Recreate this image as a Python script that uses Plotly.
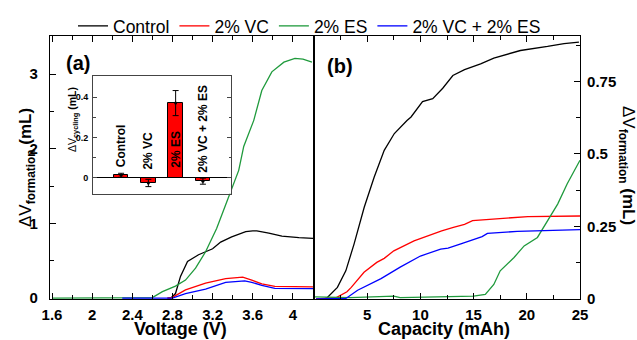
import plotly.graph_objects as go

# ---------------- data ----------------
# panel (a): formation gas vs voltage
ctrl_a_v = [2.75, 2.785, 2.83, 2.88, 2.95, 3.06, 3.2, 3.28, 3.39, 3.53, 3.6, 3.64, 3.76, 3.89, 4.06, 4.2]
ctrl_a_y = [0.0, 0.0, 0.06, 0.29, 0.49, 0.58, 0.66, 0.75, 0.82, 0.89, 0.9, 0.9, 0.87, 0.83, 0.81, 0.80]

vc_a_v = [2.75, 2.8, 2.93, 3.13, 3.33, 3.46, 3.5, 3.59, 3.69, 3.82, 4.0, 4.2]
vc_a_y = [0.0, 0.01, 0.11, 0.2, 0.26, 0.28, 0.28, 0.24, 0.19, 0.155, 0.15, 0.15]

es_a_v = [1.6, 2.0, 2.4, 2.6, 2.7, 2.83, 2.93, 3.03, 3.13, 3.24, 3.33, 3.4, 3.46, 3.51, 3.61, 3.69, 3.79, 3.91, 4.02, 4.1, 4.19]
es_a_y = [0.0, 0.0, 0.0, 0.005, 0.085, 0.16, 0.24, 0.40, 0.62, 0.93, 1.25, 1.5, 1.71, 2.03, 2.38, 2.78, 3.03, 3.16, 3.21, 3.2, 3.16]

vces_a_v = [2.3, 2.8, 2.93, 3.13, 3.33, 3.46, 3.52, 3.59, 3.69, 3.82, 4.0, 4.2]
vces_a_y = [0.0, 0.0, 0.06, 0.12, 0.21, 0.23, 0.23, 0.21, 0.17, 0.13, 0.125, 0.125]

# panel (b): formation gas vs capacity
ctrl_b_c = [0.2, 0.57, 1.26, 2.2, 2.99, 3.77, 4.72, 5.66, 6.6, 7.55, 8.74, 9.12, 10.2, 11.16, 12.1, 13.05, 14.15, 15.66, 16.9, 19.4, 21.95, 23.5, 24.9]
ctrl_b_y = [0.0, -0.005, 0.005, 0.04, 0.097, 0.19, 0.316, 0.42, 0.512, 0.57, 0.615, 0.627, 0.68, 0.69, 0.726, 0.77, 0.79, 0.81, 0.83, 0.856, 0.87, 0.88, 0.885]

vc_b_c = [0.2, 2.1, 3.1, 3.5, 4.7, 5.9, 6.6, 7.5, 9.4, 11.25, 12.0, 13.1, 14.15, 14.9, 16.9, 20.1, 25.0]
vc_b_y = [0.0, 0.005, 0.025, 0.04, 0.092, 0.126, 0.14, 0.166, 0.20, 0.226, 0.235, 0.247, 0.257, 0.27, 0.276, 0.284, 0.286]

es_b_c = [0.1, 3.4, 7.5, 8.1, 15.0, 16.1, 16.9, 17.5, 18.8, 19.75, 21.0, 21.95, 22.9, 23.8, 25.0]
es_b_y = [0.007, 0.005, 0.01, 0.005, 0.01, 0.016, 0.05, 0.097, 0.143, 0.183, 0.212, 0.27, 0.327, 0.397, 0.478]

vces_b_c = [0.2, 3.0, 4.1, 4.65, 6.3, 8.1, 10.0, 11.9, 12.6, 13.8, 15.8, 16.3, 19.1, 25.0]
vces_b_y = [0.0, 0.002, 0.03, 0.04, 0.07, 0.11, 0.148, 0.172, 0.175, 0.19, 0.215, 0.226, 0.233, 0.239]

# inset: cycling gas
inset_labels = ["Control", "2% VC", "2% ES", "2% VC + 2% ES"]
inset_pos = [0, 1, 2, 3]
inset_vals = [0.013, -0.025, 0.37, -0.016]
inset_err = [0.01, 0.018, 0.062, 0.015]
inset_label_y = [0.046, 0.038, 0.046, 0.02]

series_names = ["Control", "2% VC", "2% ES", "2% VC + 2% ES"]
colors = ["#000000", "#ff0000", "#1f9a3c", "#0000ff"]

a_ticks = [1.6, 2.0, 2.4, 2.8, 3.2, 3.6, 4.0]
a_ticktext = ["1.6", "2", "2.4", "2.8", "3.2", "3.6", "4"]
a_yticks = [0, 1, 2, 3]
b_ticks = [5, 10, 15, 20, 25]
b_yticks = [0, 0.25, 0.5, 0.75]
b_yticktext = ["0", "0.25", "0.5", "0.75"]
inset_yticks = [0, 0.2, 0.4]
inset_yticktext = ["0", "0.2", "0.4"]

# ---------------- figure ----------------
FONT = "Arial, Liberation Sans, Helvetica, sans-serif"
fig = go.Figure()

a_data = [(ctrl_a_v, ctrl_a_y), (vc_a_v, vc_a_y), (es_a_v, es_a_y), (vces_a_v, vces_a_y)]
b_data = [(ctrl_b_c, ctrl_b_y), (vc_b_c, vc_b_y), (es_b_c, es_b_y), (vces_b_c, vces_b_y)]

for (xs, ys), name, col in zip(a_data, series_names, colors):
    fig.add_trace(go.Scatter(x=xs, y=ys, mode="lines", name=name,
                             line=dict(color=col, width=1.3),
                             xaxis="x", yaxis="y", showlegend=True))
for (xs, ys), name, col in zip(b_data, series_names, colors):
    fig.add_trace(go.Scatter(x=xs, y=ys, mode="lines", name=name,
                             line=dict(color=col, width=1.3),
                             xaxis="x2", yaxis="y2", showlegend=False))

# inset bars
fig.add_trace(go.Bar(x=inset_pos, y=inset_vals, width=0.53,
                     marker=dict(color="#ff0000", line=dict(color="#000000", width=1)),
                     error_y=dict(type="data", array=inset_err, color="#000000",
                                  thickness=1, width=3),
                     xaxis="x3", yaxis="y3", showlegend=False))
fig.add_trace(go.Scatter(x=inset_pos, y=inset_vals, mode="markers",
                         marker=dict(color="#000000", size=3),
                         xaxis="x3", yaxis="y3", showlegend=False))

W, H = 637, 340
ml, mr, mt, mb = 50, 57, 36, 41
pw = W - ml - mr
ph = H - mt - mb
split = (314 - ml) / pw

def px_x(p):
    return (p - ml) / pw

def px_y(p):
    return (H - mb - p) / ph

axis_common = dict(showline=True, linecolor="#000000", linewidth=1.2,
                   ticks="inside", ticklen=6, tickwidth=1.2, tickcolor="#000000",
                   showgrid=False, zeroline=False, automargin=False,
                   tickfont=dict(family=FONT, size=15, color="#000000", weight="bold"))

fig.update_layout(
    template="none",
    width=W, height=H,
    margin=dict(l=ml, r=mr, t=mt, b=mb, autoexpand=False),
    paper_bgcolor="white", plot_bgcolor="white",
    font=dict(family=FONT, color="#000000"),
    bargap=0,
    legend=dict(orientation="h", x=px_x(73), xanchor="left", y=px_y(26), yanchor="middle",
                font=dict(family=FONT, size=17.5, color="#000000"),
                itemwidth=30,
                bgcolor="rgba(0,0,0,0)", borderwidth=0, tracegroupgap=0),
    xaxis=dict(domain=[0, split], range=[1.58, 4.21], tickvals=a_ticks, ticktext=a_ticktext,
               mirror="ticks", anchor="y",
               minor=dict(dtick=0.2, tick0=1.6, ticks="inside", ticklen=3.5, tickcolor="#000000"),
               ticklabelstandoff=2,
               **axis_common),
    yaxis=dict(domain=[0, 1], range=[-0.013, 3.51], tickvals=a_yticks, mirror=True, anchor="x",
               minor=dict(dtick=0.5, tick0=0, ticks="inside", ticklen=3.5, tickcolor="#000000"),
               ticklabelstandoff=8,
               **axis_common),
    xaxis2=dict(domain=[split, 1], range=[0, 25], tickvals=b_ticks, mirror="ticks", anchor="y2",
                minor=dict(dtick=2.5, tick0=0, ticks="inside", ticklen=3.5, tickcolor="#000000"),
                ticklabelstandoff=2,
                **axis_common),
    yaxis2=dict(domain=[0, 1], range=[0, 0.906], tickvals=b_yticks, ticktext=b_yticktext,
                side="right", mirror=True, anchor="x2",
                minor=dict(dtick=0.125, tick0=0, ticks="inside", ticklen=3.5, tickcolor="#000000"),
                ticklabelstandoff=3,
                **axis_common),
    xaxis3=dict(domain=[px_x(93), px_x(231)], range=[-1.03, 4.03], anchor="y3",
                showline=True, linecolor="#444444", linewidth=1, mirror=True, automargin=False,
                showticklabels=False, ticks="", showgrid=False, zeroline=False),
    yaxis3=dict(domain=[px_y(193.7), px_y(76)], range=[-0.078, 0.504], anchor="x3",
                tickvals=inset_yticks, ticktext=inset_yticktext, automargin=False,
                showline=True, linecolor="#444444", linewidth=1, mirror="ticks",
                ticks="inside", ticklen=4, tickwidth=1, tickcolor="#444444",
                minor=dict(dtick=0.1, tick0=0, ticks="inside", ticklen=2.5, tickcolor="#444444"),
                showgrid=False, zeroline=True, zerolinecolor="#000000", zerolinewidth=1,
                ticklabelstandoff=2,
                tickfont=dict(family=FONT, size=9, color="#000000", weight="bold")),
)

annotations = [
    dict(text="<b>(a)</b>", x=px_x(78), y=px_y(63), xref="paper", yref="paper",
         showarrow=False, font=dict(family=FONT, size=20), xanchor="center", yanchor="middle"),
    dict(text="<b>(b)</b>", x=px_x(340), y=px_y(66), xref="paper", yref="paper",
         showarrow=False, font=dict(family=FONT, size=20), xanchor="center", yanchor="middle"),
    dict(text="<b>Voltage (V)</b>", x=px_x(180), y=px_y(328.5), xref="paper", yref="paper",
         showarrow=False, font=dict(family=FONT, size=18), xanchor="center", yanchor="middle"),
    dict(text="<b>Capacity (mAh)</b>", x=px_x(444), y=px_y(328.5), xref="paper", yref="paper",
         showarrow=False, font=dict(family=FONT, size=18), xanchor="center", yanchor="middle"),
    dict(text="ΔV<sub><b>formation</b></sub><b> (mL)</b>", x=px_x(27), y=px_y(168),
         xref="paper", yref="paper", showarrow=False, textangle=-90,
         font=dict(family=FONT, size=17), xanchor="center", yanchor="middle"),
    dict(text="ΔV<sub><b>formation</b></sub><b> (mL)</b>", x=px_x(627), y=px_y(165),
         xref="paper", yref="paper", showarrow=False, textangle=90,
         font=dict(family=FONT, size=17), xanchor="center", yanchor="middle"),
    dict(text="ΔV<sub><b>cycling</b></sub><b> (mL)</b>", x=px_x(73), y=px_y(120),
         xref="paper", yref="paper", showarrow=False, textangle=-90,
         font=dict(family=FONT, size=10.5), xanchor="center", yanchor="middle"),
]
for pos, lab, ly in zip(inset_pos, inset_labels, inset_label_y):
    annotations.append(dict(text="<b>" + lab + "</b>", x=pos, y=ly, xref="x3", yref="y3",
                            showarrow=False, textangle=-90, borderpad=0,
                            font=dict(family=FONT, size=12, color="#000000"),
                            xanchor="center", yanchor="bottom"))
fig.update_layout(annotations=annotations)

fig.write_html("out.html", config={"displayModeBar": False},
               post_script="document.body.style.margin='0';document.body.style.padding='0';document.body.style.overflow='hidden';")
